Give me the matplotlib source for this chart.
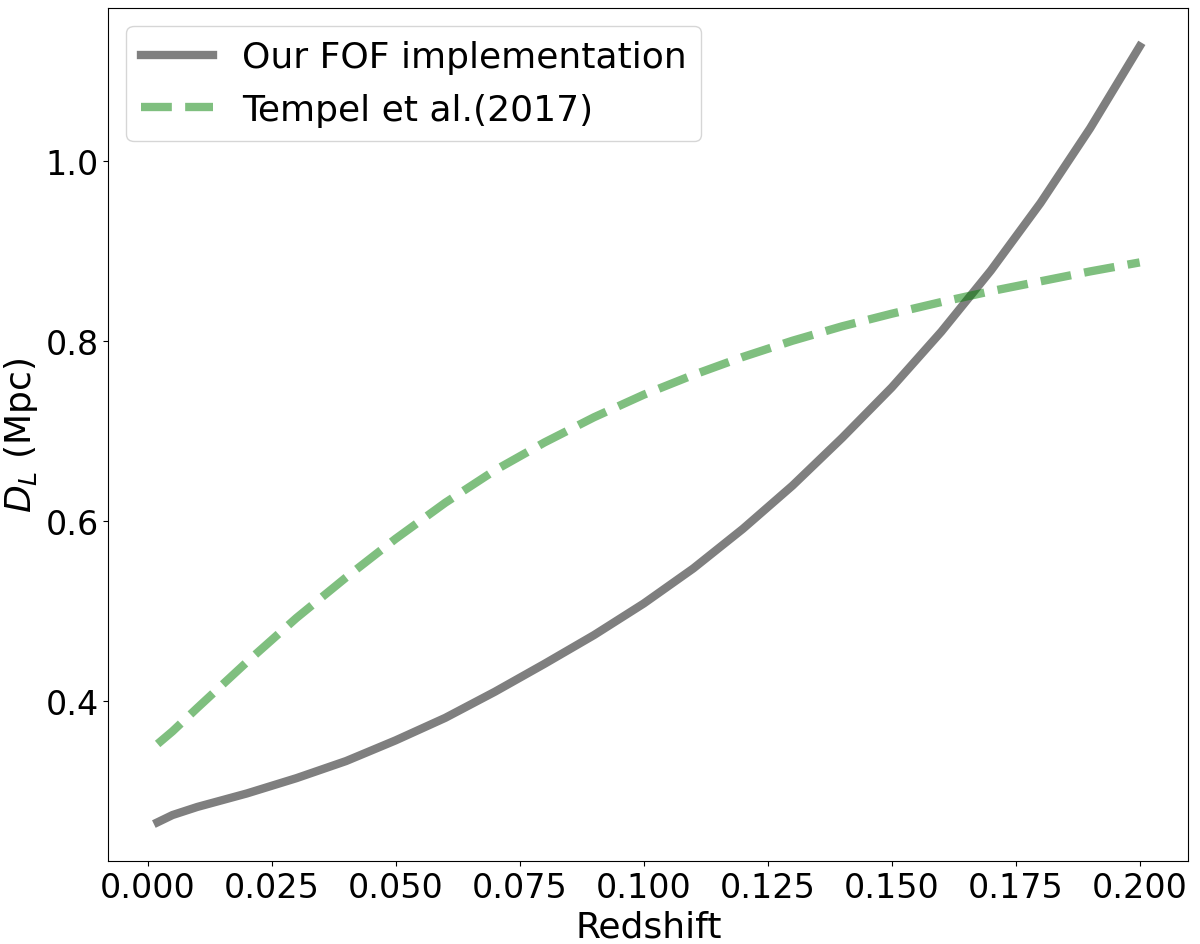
import matplotlib
matplotlib.use("Agg")
import matplotlib.pyplot as plt
import numpy as np

# redshift grid and D_L values
redshift = [0.002, 0.005, 0.01, 0.02, 0.03, 0.04, 0.05, 0.06, 0.07, 0.08, 0.09,
            0.10, 0.11, 0.12, 0.13, 0.14, 0.15, 0.16, 0.17, 0.18, 0.19, 0.20]
dl_fof = [0.265, 0.273, 0.282, 0.297, 0.314, 0.333, 0.356, 0.381, 0.410, 0.441, 0.473,
          0.508, 0.547, 0.591, 0.639, 0.692, 0.748, 0.810, 0.878, 0.953, 1.036, 1.127]
dl_tempel = [0.352, 0.366, 0.392, 0.443, 0.492, 0.537, 0.580, 0.620, 0.656, 0.687, 0.715,
             0.740, 0.762, 0.782, 0.800, 0.816, 0.830, 0.843, 0.855, 0.866, 0.877, 0.887]
labels = ["Our FOF implementation", "Tempel et al.(2017)"]

fig = plt.figure(figsize=(12, 9.45), dpi=100)
ax = fig.add_axes([0.09025, 0.0875, 0.9, 0.903])
ax.plot(redshift, dl_fof, color='k', alpha=0.5, lw=6, label=labels[0])
ax.plot(redshift, dl_tempel, color='g', alpha=0.5, lw=6, ls='--', label=labels[1])

ax.set_xlim(-0.00794, 0.2098)
ax.set_ylim(0.2216, 1.1697)
ax.set_xticks(np.arange(0, 0.201, 0.025))
ax.set_yticks([0.4, 0.6, 0.8, 1.0])
ax.tick_params(labelsize=24)
ax.set_xlabel("Redshift", fontsize=26)
ax.set_ylabel("$D_L$ (Mpc)", fontsize=26)
ax.legend(loc='upper left', fontsize=26)

plt.savefig("out.png", dpi=100)
